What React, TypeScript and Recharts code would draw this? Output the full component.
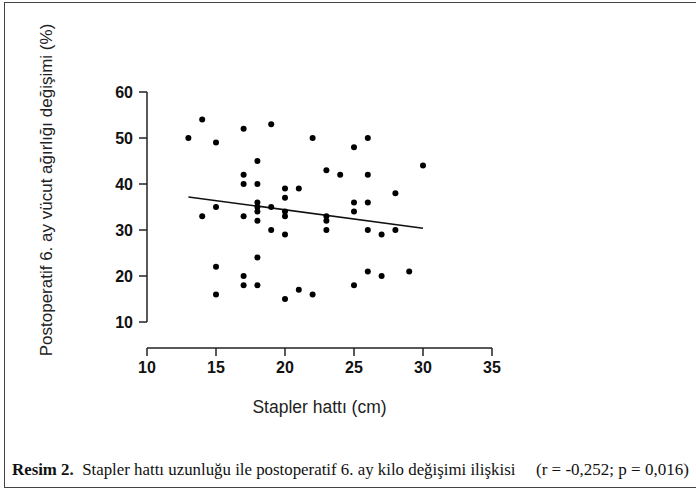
import React from 'react';
import { ScatterChart, Scatter, XAxis, YAxis, ReferenceLine } from 'recharts';

const staplerCm = [13, 14, 15, 17, 19, 22, 25, 26, 30, 14, 15, 17, 17, 17, 18, 18, 18, 18, 18, 18, 19, 19, 20, 20, 20, 20, 20, 21, 23, 24, 23, 23, 23, 25, 25, 26, 26, 26, 27, 28, 28, 15, 15, 17, 17, 18, 18, 20, 21, 22, 25, 26, 27, 29];
const weightChange = [50, 54, 49, 52, 53, 50, 48, 50, 44, 33, 35, 42, 40, 33, 45, 40, 36, 35, 34, 32, 35, 30, 39, 37, 34, 33, 29, 39, 43, 42, 33, 32, 30, 36, 34, 42, 36, 30, 29, 38, 30, 22, 16, 20, 18, 24, 18, 15, 17, 16, 18, 21, 20, 21];
const xTicks = [10, 15, 20, 25, 30, 35];
const yTicks = [10, 20, 30, 40, 50, 60];
const fitX = [13, 30];
const fitY = [37.2, 30.4];

const points = staplerCm.map((x, i) => ({ x, y: weightChange[i] }));

const AXIS = '#222';
const FONT = '"Liberation Sans", Arial, sans-serif';
const SERIF = '"Liberation Serif", "Times New Roman", serif';

const YLabel = () => (
  <text
    x={52}
    y={190}
    transform="rotate(-90, 52, 190)"
    textAnchor="middle"
    fontFamily={FONT}
    fontSize={17}
    fill="#222"
  >
    Postoperatif 6. ay vücut ağırlığı değişimi (%)
  </text>
);

const XLabel = (props: any) => {
  const vb = props.viewBox || { x: 0, y: 0, width: 0, height: 0 };
  return (
    <text
      x={vb.x + vb.width / 2}
      y={vb.y + 65}
      textAnchor="middle"
      fontFamily={FONT}
      fontSize={17.5}
      fill="#222"
    >
      Stapler hattı (cm)
    </text>
  );
};

export default function App() {
  return (
    <div style={{ position: 'absolute', left: 0, top: 0, width: 696, height: 491, background: '#fff' }}>
      <div
        style={{
          position: 'absolute',
          left: 4,
          top: 2,
          width: 692,
          height: 486,
          borderLeft: '1.5px solid #444',
          borderTop: '1.5px solid #444',
          borderBottom: '1.5px solid #444',
          boxSizing: 'border-box',
        }}
      />
      <div style={{ position: 'absolute', left: 0, top: 0 }}>
        <ScatterChart width={696} height={420} margin={{ top: 92, right: 204, left: 0, bottom: 0 }}>
          <XAxis
            type="number"
            dataKey="x"
            domain={[10, 35]}
            ticks={xTicks}
            allowDataOverflow
            height={72}
            stroke={AXIS}
            strokeWidth={1.5}
            tickSize={8}
            tickMargin={6}
            tick={{ fill: '#111', fontSize: 16, fontWeight: 'bold', fontFamily: FONT }}
            label={<XLabel />}
          />
          <YAxis
            type="number"
            dataKey="y"
            domain={[4.35, 60]}
            ticks={yTicks}
            allowDataOverflow
            width={147}
            axisLine={false}
            stroke={AXIS}
            strokeWidth={1.5}
            tickSize={8}
            tickMargin={6}
            tick={{ fill: '#111', fontSize: 16, fontWeight: 'bold', fontFamily: FONT }}
            label={<YLabel />}
          />
          <ReferenceLine
            segment={[{ x: xTicks[0], y: yTicks[0] }, { x: xTicks[0], y: yTicks[yTicks.length - 1] }]}
            stroke={AXIS}
            strokeWidth={1.5}
            ifOverflow="visible"
          />
          <ReferenceLine
            segment={[{ x: fitX[0], y: fitY[0] }, { x: fitX[1], y: fitY[1] }]}
            stroke="#111"
            strokeWidth={1.5}
            ifOverflow="visible"
          />
          <Scatter
            data={points}
            fill="#000"
            isAnimationActive={false}
            shape={(p: any) => <circle cx={p.cx} cy={p.cy} r={3} fill="#000" />}
          />
        </ScatterChart>
      </div>
      <div
        style={{
          position: 'absolute',
          left: 12,
          top: 460,
          fontFamily: SERIF,
          fontSize: 16.85,
          color: '#111',
          whiteSpace: 'nowrap',
        }}
      >
        <b>Resim 2.</b>&nbsp; Stapler hattı uzunluğu ile postoperatif 6. ay kilo değişimi ilişkisi
      </div>
      <div
        style={{
          position: 'absolute',
          left: 536,
          top: 460,
          fontFamily: SERIF,
          fontSize: 17,
          color: '#111',
          whiteSpace: 'nowrap',
        }}
      >
        (r = -0,252; p = 0,016)
      </div>
    </div>
  );
}
